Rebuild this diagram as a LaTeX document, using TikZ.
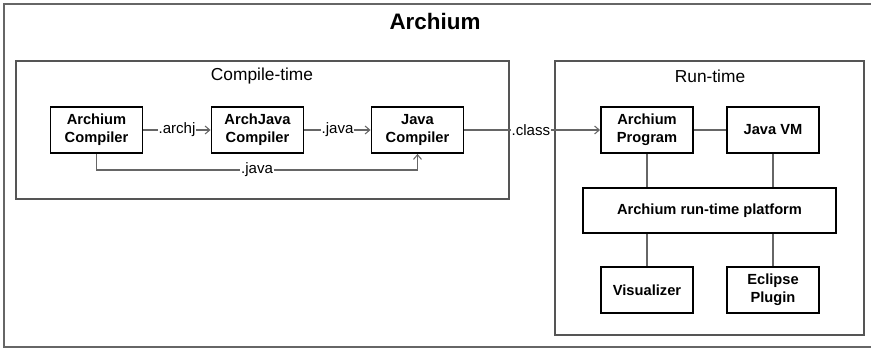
\documentclass[tikz,border=0pt]{standalone}
\usepackage{fontspec}
\setmainfont{Liberation Sans}
\usetikzlibrary{arrows.meta}
\definecolor{linegray}{HTML}{666666}
\definecolor{framegray}{HTML}{555555}
\begin{document}
\begin{tikzpicture}[x=0.75pt,y=-0.75pt,
  comp/.style={draw=black,line width=1.4pt,fill=white,align=center,
    font=\fontsize{11}{13.5}\selectfont\bfseries,inner sep=0pt,
    minimum width=69pt,minimum height=34.5pt},
  conn/.style={draw=linegray,line width=0.9pt},
  arr/.style={conn,-{Straight Barb[length=3.5pt,width=6pt,line width=0.8pt]}},
  lbl/.style={font=\fontsize{11.3}{13}\selectfont,fill=white,inner sep=0.8pt},
  frame/.style={draw=framegray,line width=1.1pt}]
\useasboundingbox (0,0) rectangle (871,348);
\begin{scope}
\clip (0,0) rectangle (871,348);
\draw[draw=gray!80!black,line width=1.5pt] (4,4) rectangle (890,347);
\end{scope}
\node[font=\fontsize{16.8}{19}\selectfont\bfseries] (title) at (435,21) {Archium};
% frames
\draw[frame] (16,61) rectangle (509,199);
\draw[frame] (555,61) rectangle (864,335);
\node[font=\fontsize{13}{15}\selectfont] (ct) at (262,76) {Compile-time};
\node[font=\fontsize{13}{15}\selectfont] (rt) at (710,76) {Run-time};
% compile-time nodes
\node[comp] (ac) at (96.5,130) {Archium\\Compiler};
\node[comp] (ajc) at (257.5,130) {ArchJava\\Compiler};
\node[comp] (jc) at (417.5,130) {Java\\Compiler};
% run-time nodes
\node[comp] (ap) at (647,130) {Archium\\Program};
\node[comp] (jvm) at (773,130) {Java VM};
\node[comp,minimum width=189.75pt,minimum height=33.75pt] (plat) at (709.5,210.5) {Archium run-time platform};
\node[comp] (vis) at (647,290) {Visualizer};
\node[comp] (ecl) at (773,290) {Eclipse\\Plugin};
% connectors
\draw[arr] (ac) -- node[lbl] {.archj} (ajc);
\draw[arr] (ajc) -- node[lbl] {.java} (jc);
\draw[arr] (ac.south) -- (96.5,170) -- node[lbl,pos=0.5] {.java} (417.5,170) -- (jc.south);
\draw[arr] (jc) -- node[lbl,pos=0.5,xshift=-1pt] {.class} (ap);
\draw[conn] (ap) -- (jvm);
\draw[conn] (ap) -- (ap |- plat.north);
\draw[conn] (jvm) -- (jvm |- plat.north);
\draw[conn] (vis) -- (vis |- plat.south);
\draw[conn] (ecl) -- (ecl |- plat.south);
\end{tikzpicture}
\end{document}
